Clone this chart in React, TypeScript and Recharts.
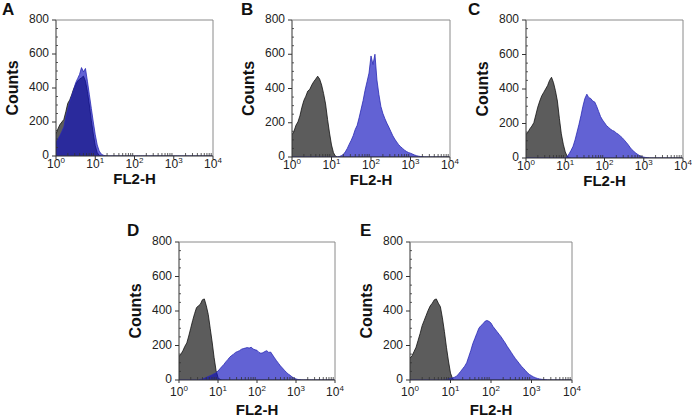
import React from "react";
import { ComposedChart, Area, XAxis, YAxis } from "recharts";

// log10(FL2-H) bin centres, 0.05 decade apart
const bins = [
  0, 0.05, 0.1, 0.15, 0.2, 0.25, 0.3, 0.35, 0.4, 0.45, 0.5, 0.55, 0.6, 0.65, 0.7, 0.75, 0.8, 0.85, 0.9, 0.95,
  1, 1.05, 1.1, 1.15, 1.2, 1.25, 1.3, 1.35, 1.4, 1.45, 1.5, 1.55, 1.6, 1.65, 1.7, 1.75, 1.8, 1.85, 1.9, 1.95,
  2, 2.05, 2.1, 2.15, 2.2, 2.25, 2.3, 2.35, 2.4, 2.45, 2.5, 2.55, 2.6, 2.65, 2.7, 2.75, 2.8, 2.85, 2.9, 2.95,
  3, 3.05, 3.1, 3.15, 3.2, 3.25, 3.3, 3.35, 3.4, 3.45, 3.5, 3.55, 3.6, 3.65, 3.7, 3.75, 3.8, 3.85, 3.9, 3.95, 4,
];

const decades = [0, 1, 2, 3, 4];

// counts per bin (missing tail = 0)
const grayA = [130, 160, 185, 200, 215, 260, 310, 330, 360, 395, 420, 440, 452, 460, 470, 440, 380, 300, 210, 130, 60, 20, 4];
const blueA = [80, 100, 120, 145, 170, 230, 275, 320, 355, 390, 430, 455, 480, 520, 495, 515, 440, 360, 280, 200, 125, 65, 30, 12, 5, 2];

const grayB = [130, 150, 185, 205, 240, 290, 330, 355, 385, 395, 420, 440, 455, 472, 455, 420, 370, 310, 220, 140, 70, 25, 5];
const blueB = [
  0, 0, 0, 0, 0, 0, 0, 0, 0, 0, 0, 0, 0, 0, 0, 0, 0, 0, 0, 0, 0, 0, 0, 0,
  3, 8, 15, 30, 50, 75, 98, 125, 160, 185, 230, 280, 330, 390, 440, 490, 590, 540, 600, 450, 365, 295, 255, 225,
  198, 175, 150, 125, 105, 88, 72, 60, 50, 40, 32, 26, 22, 17, 12, 8, 5, 3, 2,
];

const grayC = [137, 150, 170, 185, 205, 250, 295, 330, 360, 380, 400, 420, 450, 468, 437, 390, 330, 230, 140, 80, 35, 10, 2];
const blueC = [
  0, 0, 0, 0, 0, 0, 0, 0, 0, 0, 0, 0, 0, 0, 0, 0, 0, 0, 0, 0, 0,
  8, 25, 45, 68, 105, 150, 195, 245, 300, 345, 370, 350, 345, 330, 325, 300, 270, 240, 220, 205, 188, 178, 168,
  160, 155, 145, 138, 128, 118, 105, 92, 78, 62, 48, 38, 28, 20, 13, 8, 5, 3, 2,
];

const grayD = [137, 150, 170, 195, 215, 255, 300, 345, 385, 420, 430, 440, 465, 470, 430, 380, 300, 220, 130, 55, 15, 3];
const blueD = [
  0, 0, 0, 0, 0, 0, 0, 0, 0, 0, 0,
  3, 6, 10, 15, 20, 25, 30, 36, 42, 52, 65, 78, 90, 105, 118, 132, 142, 150, 160, 165, 170, 178, 182, 185, 188,
  185, 190, 180, 175, 172, 160, 155, 158, 165, 170, 160, 162, 145, 128, 112, 97, 82, 70, 57, 45, 35, 27, 18, 11,
  6, 3, 2,
];

const grayE = [127, 140, 165, 190, 230, 270, 315, 345, 375, 405, 430, 445, 465, 470, 445, 425, 360, 280, 190, 110, 40, 8];
const blueE = [
  0, 0, 0, 0, 0, 0, 0, 0, 0, 0, 0, 0, 0, 0, 0, 0, 0, 0,
  4, 6, 9, 12, 16, 22, 35, 50, 65, 80, 100, 135, 170, 210, 240, 270, 300, 315, 325, 340, 345, 340, 330, 310,
  295, 280, 265, 250, 232, 215, 195, 178, 160, 142, 125, 110, 95, 80, 68, 55, 42, 32, 25, 18, 13, 9, 6, 4, 3, 2,
];

const FONT = '"Liberation Sans", Arial, Helvetica, sans-serif';
const AXIS = "#333";

const yMinor: number[] = [];
for (let v = 0; v <= 800; v += 50) yMinor.push(v);

const xMinor: number[] = [];
decades.forEach((d) => {
  if (d < 4) for (let m = 2; m <= 9; m++) xMinor.push(d + Math.log10(m));
});
const xTicksAll = [...decades, ...xMinor].sort((a, b) => a - b);

type PanelCfg = {
  letter: string;
  left: number;
  top: number;
  w: number;
  h: number;
  gray: number[];
  blue: number[];
  row: 0 | 1;
  letterX: number;
  letterY: number;
};

const panels: PanelCfg[] = [
  { letter: "A", left: 56, top: 20, w: 157, h: 136, gray: grayA, blue: blueA, row: 0, letterX: 2, letterY: 15 },
  { letter: "B", left: 292, top: 20, w: 158, h: 137, gray: grayB, blue: blueB, row: 0, letterX: 241, letterY: 15 },
  { letter: "C", left: 526, top: 20, w: 157, h: 138, gray: grayC, blue: blueC, row: 0, letterX: 468, letterY: 15 },
  { letter: "D", left: 179, top: 242, w: 156, h: 138, gray: grayD, blue: blueD, row: 1, letterX: 127, letterY: 236 },
  { letter: "E", left: 410, top: 242, w: 162, h: 138, gray: grayE, blue: blueE, row: 1, letterX: 360, letterY: 236 },
];

const isInt = (v: number) => Math.abs(v - Math.round(v)) < 1e-6;

function XTick(props: any) {
  const { x, y, payload, labelDy } = props;
  const v = payload.value as number;
  if (!isInt(v)) {
    return <line x1={x} x2={x} y1={y} y2={y - 3} stroke={AXIS} strokeWidth={0.8} />;
  }
  return (
    <g>
      <line x1={x} x2={x} y1={y} y2={y + 3} stroke={AXIS} strokeWidth={1} />
      <text x={x} y={y + labelDy} textAnchor="middle" fontSize={12} fontFamily={FONT} fill="#222">
        <tspan>10</tspan>
        <tspan dy={-5} fontSize={8}>{Math.round(v)}</tspan>
      </text>
    </g>
  );
}

function YTick(props: any) {
  const { x, y, payload } = props;
  const v = payload.value as number;
  if (v % 200 !== 0) {
    return <line x1={x} x2={x + 2} y1={y} y2={y} stroke={AXIS} strokeWidth={0.8} />;
  }
  return (
    <g>
      <line x1={x - 4} x2={x} y1={y} y2={y} stroke={AXIS} strokeWidth={1} />
      <text x={x - 7} y={y + 3} textAnchor="end" fontSize={12} fontFamily={FONT} fill="#222">
        {v}
      </text>
    </g>
  );
}

function Panel({ cfg }: { cfg: PanelCfg }) {
  const yAxisW = 55;
  const mTop = 8;
  const mRight = 16;
  const xAxisH = 40;
  const data = bins.map((x, i) => ({ x, gray: cfg.gray[i] ?? 0, blue: cfg.blue[i] ?? 0 }));
  const labelDy = cfg.row === 0 ? 12 : 16;
  return (
    <div style={{ position: "absolute", left: cfg.left - yAxisW, top: cfg.top - mTop }}>
      <ComposedChart
        width={yAxisW + cfg.w + mRight}
        height={mTop + cfg.h + xAxisH}
        data={data}
        margin={{ top: mTop, right: mRight, left: 0, bottom: 0 }}
      >
        <XAxis
          dataKey="x"
          type="number"
          domain={[0, 4]}
          ticks={xTicksAll}
          interval={0}
          height={xAxisH}
          tickSize={0}
          tickMargin={0}
          tickLine={false}
          axisLine={{ stroke: AXIS, strokeWidth: 1 }}
          tick={<XTick labelDy={labelDy} />}
          allowDataOverflow
        />
        <YAxis
          type="number"
          domain={[0, 800]}
          ticks={yMinor}
          interval={0}
          width={yAxisW}
          tickSize={0}
          tickMargin={0}
          tickLine={false}
          axisLine={{ stroke: AXIS, strokeWidth: 1 }}
          tick={<YTick />}
          allowDataOverflow
        />
        <Area
          dataKey="gray"
          type="linear"
          fill="#5c5c5c"
          fillOpacity={1}
          stroke="#111"
          strokeWidth={0.8}
          isAnimationActive={false}
          dot={false}
          activeDot={false}
        />
        <Area
          dataKey="blue"
          type="linear"
          fill="#1010be"
          fillOpacity={0.66}
          stroke="#2a2ab4"
          strokeWidth={0.8}
          isAnimationActive={false}
          dot={false}
          activeDot={false}
        />
      </ComposedChart>
    </div>
  );
}

export default function App() {
  return (
    <div style={{ position: "absolute", left: 0, top: 0, width: 692, height: 419, background: "#fff", overflow: "hidden" }}>
      {panels.map((p) => (
        <Panel key={p.letter} cfg={p} />
      ))}
      <svg width={692} height={419} style={{ position: "absolute", left: 0, top: 0, pointerEvents: "none" }}>
        {panels.map((p) => {
          const cx = p.left + p.w / 2;
          const cy = p.top + p.h / 2;
          const xLabelY = p.top + p.h + (p.row === 0 ? 28 : 35);
          return (
            <g key={p.letter} fontFamily={FONT}>
              <path
                d={`M${p.left} ${p.top}H${p.left + p.w}V${p.top + p.h}`}
                fill="none"
                stroke="#8a8a8a"
                strokeWidth={1}
              />
              <text x={p.letterX} y={p.letterY} fontSize={17} fontWeight="bold" fill="#111">
                {p.letter}
              </text>
              <text
                x={p.left - 38}
                y={cy}
                fontSize={16}
                fontWeight="bold"
                fill="#111"
                textAnchor="middle"
                transform={`rotate(-90 ${p.left - 38} ${cy})`}
              >
                Counts
              </text>
              <text x={cx} y={xLabelY} fontSize={15} fontWeight="bold" fill="#111" textAnchor="middle">
                FL2-H
              </text>
            </g>
          );
        })}
      </svg>
    </div>
  );
}
